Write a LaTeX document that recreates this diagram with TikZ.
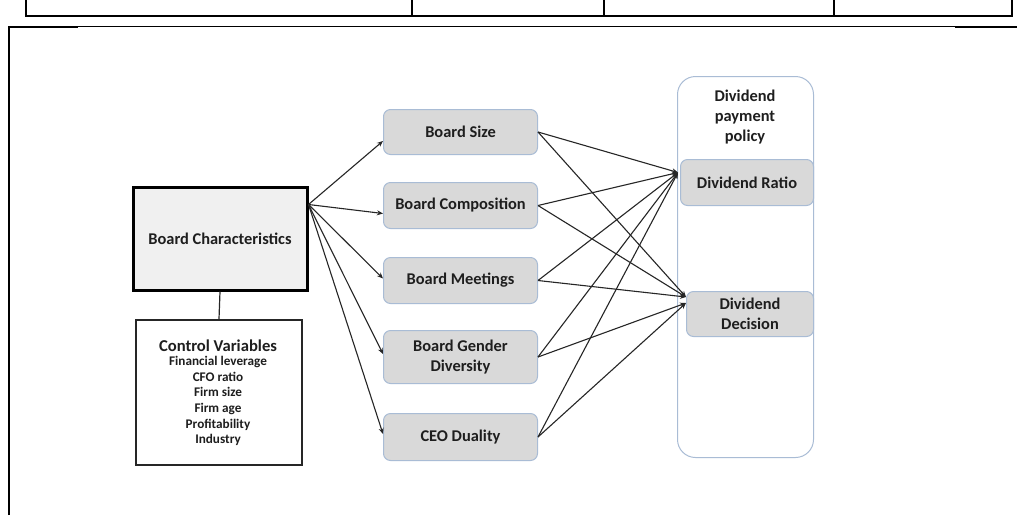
\documentclass[tikz,border=0pt]{standalone}
\usepackage{fontspec}
\setmainfont{Carlito}
\usetikzlibrary{arrows.meta}
\definecolor{boxfill}{HTML}{D9D9D9}
\definecolor{boxline}{HTML}{A9BCD5}
\definecolor{bcfill}{HTML}{F0F0F0}
\definecolor{txt}{HTML}{1E1E1E}
\begin{document}
\begin{tikzpicture}[x=1pt,y=-1pt,
  mbox/.style={draw=boxline, line width=1pt, fill=boxfill, rounded corners=7pt,
    minimum width=154pt, anchor=north west, inner sep=0pt, align=center,
    text=txt, font=\bfseries\fontsize{16.4}{20}\selectfont},
  bcbox/.style={draw=black, line width=3pt, fill=bcfill, minimum width=174pt,
    minimum height=103pt, anchor=north west, inner sep=0pt, text=txt,
    font=\bfseries\fontsize{16.4}{20}\selectfont},
  cvbox/.style={draw=black!85, line width=2pt, fill=white, minimum width=166pt,
    minimum height=145pt, anchor=north west, inner sep=0pt},
  container/.style={draw=boxline, line width=1pt, rounded corners=18pt,
    minimum width=136pt, minimum height=381pt, anchor=north west, inner sep=0pt},
  lbl/.style={text=txt, align=center, inner sep=0pt},
  conn/.style={draw=black!85, line width=1.1pt, -{Stealth[length=6pt,width=5pt]}},
  plain/.style={draw=black!85, line width=1.2pt},
  tab/.style={draw=black, line width=1.3pt}]
\fill[white] (0,0) rectangle (1017,515);
\useasboundingbox (0,0) rectangle (1017,515);

% fragment of table above
\draw[tab] (26,0) -- (26,16) -- (1012,16) -- (1012,0);
\draw[tab] (412,0) -- (412,16);
\draw[tab] (604,0) -- (604,16);
\draw[tab] (834,0) -- (834,16);
% frame
\draw[draw=black, line width=2pt] (9,515) -- (9,27) -- (78,27);
\draw[draw=black, line width=1pt] (78,26.5) -- (955,26.5);
\draw[draw=black, line width=2.2pt] (955,27) -- (1017,27);

% left nodes
\node[bcbox] (bc) at (131.5,185.5) {Board Characteristics};
\node[cvbox] (cv) at (135,319) {};
\node[lbl, font=\bfseries\fontsize{16.6}{19}\selectfont] (cvt) at (218,346) {Control Variables};
\node[lbl, font=\bfseries\fontsize{13.2}{15.6}\selectfont] (cvi) at (218,401)
  {Financial leverage\\CFO ratio\\Firm size\\Firm age\\Profitability\\Industry};
\draw[plain] (bc.south) -- (cv.north);

% middle nodes
\node[mbox, minimum height=45pt] (bs) at (383,109) {Board Size};
\node[mbox, minimum height=46pt] (bcomp) at (383,182) {Board Composition};
\node[mbox, minimum height=46pt] (bm) at (383,257) {Board Meetings};
\node[mbox, minimum height=53pt] (bgd) at (383,330) {Board Gender\\Diversity};
\node[mbox, minimum height=47pt] (ceo) at (383,413) {CEO Duality};

% right nodes
\node[container] (dpp) at (677,76) {};
\node[lbl, font=\bfseries\fontsize{16.4}{20}\selectfont] (dppt) at (745,117) {Dividend\\payment\\policy};
\node[mbox, minimum width=133pt, minimum height=46pt] (dr) at (680,159) {Dividend Ratio};
\node[mbox, minimum width=127pt, minimum height=45pt] (dd) at (686,291) {Dividend\\Decision};

% connectors from Board Characteristics
\coordinate (bcout) at ([yshift=34pt]bc.east);
\draw[conn] (bcout) -- ([yshift=-9pt]bs.west);
\draw[conn] (bcout) -- ([yshift=-8pt]bcomp.west);
\draw[conn] (bcout) -- ([yshift=2pt]bm.west);
\draw[conn] (bcout) -- ([yshift=3pt]bgd.west);
\draw[conn] (bcout) -- ([yshift=3pt]ceo.west);

% connectors to dividend policy
\coordinate (drin) at ([yshift=10pt,xshift=-2pt]dr.west);
\coordinate (ddin1) at ([yshift=17pt]dd.west);
\coordinate (ddin2) at ([yshift=11pt]dd.west);
\foreach \n in {bs,bcomp,bm,bgd,ceo}{
  \draw[conn] (\n.east) -- (drin);
}
\foreach \n in {bs,bcomp,bm}{
  \draw[conn] (\n.east) -- (ddin1);
}
\foreach \n in {bgd,ceo}{
  \draw[conn] (\n.east) -- (ddin2);
}
\end{tikzpicture}
\end{document}
